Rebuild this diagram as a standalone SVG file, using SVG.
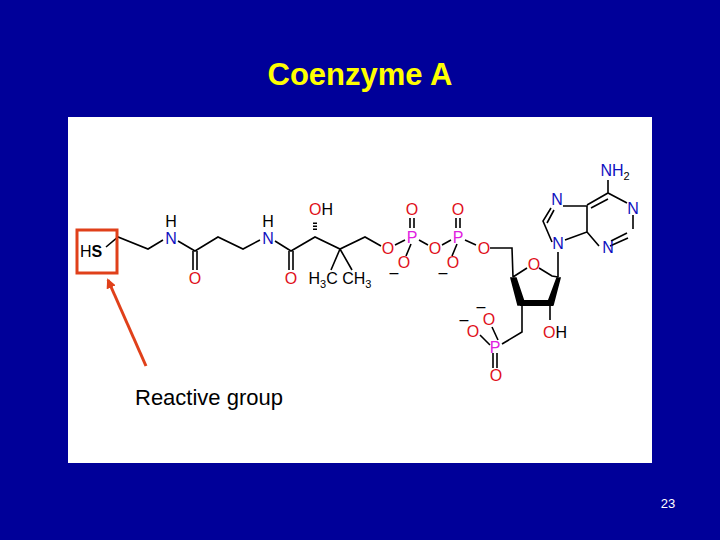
<svg xmlns="http://www.w3.org/2000/svg" width="720" height="540" viewBox="0 0 720 540">
<style>
.b{stroke:#000;stroke-width:1.6;fill:none}
text{font-family:"Liberation Sans",Arial,sans-serif;font-size:16px;text-anchor:middle}
.O{fill:#e0101a}.N{fill:#1010c0}.P{fill:#e020e0}.K{fill:#000}
.s{font-size:11px}
</style>
<defs><marker id="ah" markerWidth="10" markerHeight="10" refX="8" refY="5" orient="auto" markerUnits="userSpaceOnUse"><path d="M0,0L10,5L0,10z" fill="#e0401a"/></marker></defs>
<rect width="720" height="540" fill="#000099"/>
<text x="360" y="85" style="font-size:31px;font-weight:bold;fill:#ffff00">Coenzyme A</text>
<rect x="68" y="117" width="584" height="346" fill="#fff"/>
<g id="bonds" class="b">
<path d="M106,247L118,237L148,249L163,240M178,241L195,251L218,237L243,249L260,240M275,241L291,251L315,237L340,249L365,237L381,246"/>
<path d="M193,251V270M197,251V270M289,251V270M293,251V270"/>
<path d="M340,249L331,270M340,249L352,270"/>
<path d="M395,245L405,240M419,240L428,245M442,245L451,240M465,240L476,245M490,248H512L513,277M513,277L527,268M539,268L552,276L558,277"/>
<path d="M410,228V218M414,228V218M456,228V218M460,228V218M411,244L406,256M457,244L452,256"/>
<path d="M558,277L558,252M522,303L522,332L502,344M498,340L492,327M490,345L480,335M493,353V368M497,353V368M550,303V320"/>
<path d="M552,242L543,221L551,208M547,223L554,210M563,206H587L587,232L565,240M587,205L608,193L627,203M591,208L608,199M633,215V229M628,238L610,246M627,233L611,241M599,246L587,232M608,193V180"/>
<polygon points="511,278 516,278 525,305 518,305" fill="#000"/>
<polygon points="557,278 560,278 553,305 547,305" fill="#000"/>
<rect x="520" y="300" width="33" height="6" fill="#000" stroke="none"/>
<path d="M315,230V222" stroke-dasharray="1.5,1.5" stroke-width="4"/>
</g>
<g id="atoms">
<text x="91" y="257" class="K">H<tspan font-weight="bold">S</tspan></text>
<text x="171" y="244" class="N">N</text><text x="171" y="227" class="K">H</text>
<text x="268" y="244" class="N">N</text><text x="268" y="227" class="K">H</text>
<text x="195" y="284" class="O">O</text><text x="291" y="284" class="O">O</text>
<text x="321" y="215"><tspan class="O">O</tspan><tspan class="K">H</tspan></text>
<text x="340" y="284" class="K">H<tspan class="s" dy="4">3</tspan><tspan dy="-4">C</tspan> CH<tspan class="s" dy="4">3</tspan></text>
<text x="388" y="254" class="O">O</text><text x="412" y="243" class="P">P</text><text x="412" y="215" class="O">O</text>
<text x="404" y="268" class="O">O</text><text x="394" y="278" class="K">–</text>
<text x="435" y="254" class="O">O</text><text x="458" y="243" class="P">P</text><text x="458" y="215" class="O">O</text>
<text x="453" y="268" class="O">O</text><text x="443" y="278" class="K">–</text>
<text x="484" y="254" class="O">O</text><text x="534" y="270" class="O">O</text>
<text x="558" y="249" class="N">N</text><text x="557" y="205" class="N">N</text>
<text x="633" y="214" class="N">N</text><text x="608" y="253" class="N">N</text>
<text x="615" y="176" class="N">NH<tspan class="s K" dy="4" fill="#000">2</tspan></text>
<text x="555" y="338"><tspan class="O">O</tspan><tspan class="K">H</tspan></text>
<text x="495" y="353" class="P">P</text><text x="496" y="381" class="O">O</text>
<text x="489" y="325" class="O">O</text><text x="481" y="312" class="K">–</text>
<text x="473" y="337" class="O">O</text><text x="464" y="325" class="K">–</text>
</g>
<g id="callout">
<rect x="77" y="230" width="40" height="43" fill="none" stroke="#e0401a" stroke-width="3"/>
<line x1="146" y1="366" x2="108" y2="280" stroke="#e0401a" stroke-width="3" marker-end="url(#ah)"/>
<text x="135" y="405" style="font-size:22px;text-anchor:start">Reactive group</text>
</g>
<text x="668" y="508" style="font-size:13px;fill:#fff">23</text>
</svg>
